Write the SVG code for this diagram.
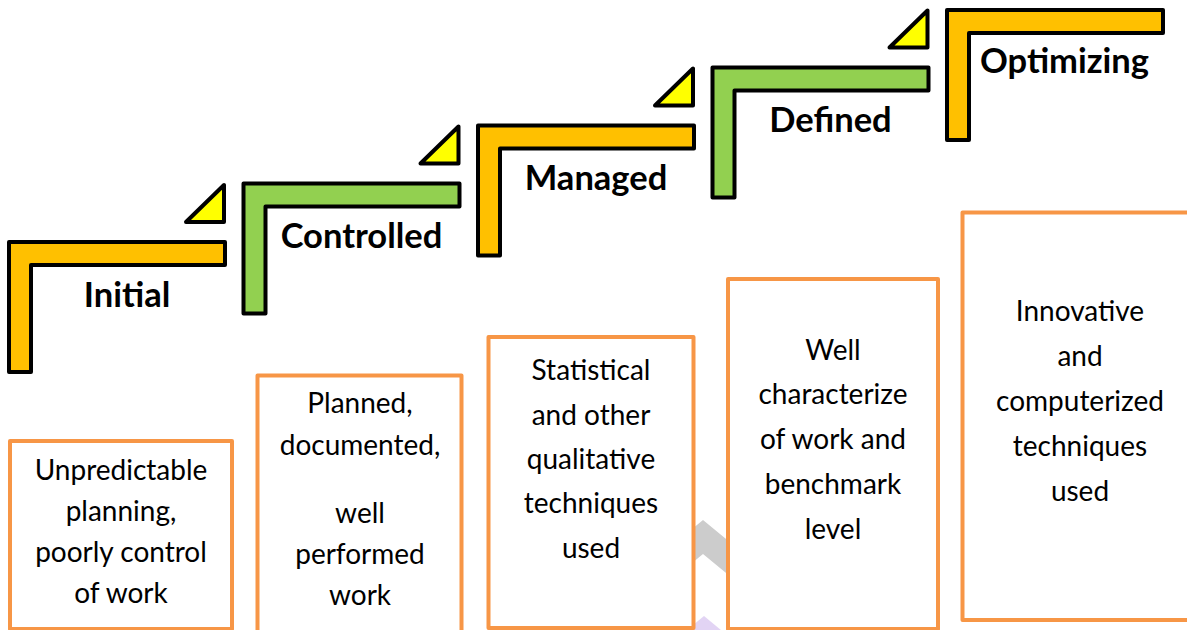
<svg xmlns="http://www.w3.org/2000/svg" width="1187" height="630" viewBox="0 0 1187 630">
<style>
.step{stroke:#000;stroke-width:4;stroke-linejoin:round}
.orange{fill:#FFC000}
.green{fill:#92D050}
.tri{fill:#FFFF00;stroke:#000;stroke-width:4;stroke-linejoin:round}
.title{font-family:Lato,"Open Sans",sans-serif;font-weight:bold;font-size:34.5px;fill:#000;text-anchor:middle}
.box{fill:#fff;stroke:#F79646;stroke-width:4;stroke-linejoin:round}
.body{font-family:Lato,"Open Sans",sans-serif;font-size:28px;fill:#000;text-anchor:middle}
</style>
<defs>
<path id="L" d="M0,0 H216 V23 H22 V130 H0 Z"/>
<path id="T" d="M177,-20 L215,-57 L215,-20 Z"/>
</defs>
<rect width="1187" height="630" fill="#fff"/>
<g id="watermark">
<polygon points="703,520 765,571 765,605 703,554 641,605 641,571" fill="#CCCCCC"/>
<polygon points="704,616 745,650 663,650" fill="#E2D4F4"/>
</g>
<g id="connectors"/>
<g id="step-initial" transform="translate(9,242)">
<use href="#L" class="step orange"/>
<use href="#T" class="tri"/>
<text class="title" x="118" y="65">Initial</text>
</g>
<g id="step-controlled" transform="translate(243.5,183.5)">
<use href="#L" class="step green"/>
<use href="#T" class="tri"/>
<text class="title" x="118" y="64.5">Controlled</text>
</g>
<g id="step-managed" transform="translate(478,125.5)">
<use href="#L" class="step orange"/>
<use href="#T" class="tri"/>
<text class="title" x="118" y="64">Managed</text>
</g>
<g id="step-defined" transform="translate(712.5,67.5)">
<use href="#L" class="step green"/>
<use href="#T" class="tri"/>
<text class="title" x="118" y="64">Defined</text>
</g>
<g id="step-optimizing" transform="translate(947,10)">
<use href="#L" class="step orange"/>
<text class="title" x="117.5" y="63">Optimizing</text>
</g>
<g id="box-initial">
<rect class="box" x="10" y="441" width="222" height="188"/>
<text class="body" x="121" y="480">Unpredictable</text>
<text class="body" x="121" y="521">planning,</text>
<text class="body" x="121" y="562">poorly control</text>
<text class="body" x="121" y="603">of work</text>
</g>
<g id="box-controlled">
<rect class="box" x="257.5" y="375.5" width="204" height="262"/>
<text class="body" x="360" y="413">Planned,</text>
<text class="body" x="360" y="455">documented,</text>
<text class="body" x="360" y="523">well</text>
<text class="body" x="360" y="564">performed</text>
<text class="body" x="360" y="605">work</text>
</g>
<g id="box-managed">
<rect class="box" x="488.5" y="337" width="205" height="291"/>
<text class="body" x="591" y="380">Statistical</text>
<text class="body" x="591" y="424.5">and other</text>
<text class="body" x="591" y="469">qualitative</text>
<text class="body" x="591" y="513">techniques</text>
<text class="body" x="591" y="558">used</text>
</g>
<g id="box-defined">
<rect class="box" x="728" y="279" width="210" height="350"/>
<text class="body" x="833" y="359.5">Well</text>
<text class="body" x="833" y="404">characterize</text>
<text class="body" x="833" y="448.5">of work and</text>
<text class="body" x="833" y="493.5">benchmark</text>
<text class="body" x="833" y="538.5">level</text>
</g>
<g id="box-optimizing">
<rect class="box" x="962.5" y="212.5" width="240" height="407.5"/>
<text class="body" x="1080" y="321">Innovative</text>
<text class="body" x="1080" y="366">and</text>
<text class="body" x="1080" y="411">computerized</text>
<text class="body" x="1080" y="456">techniques</text>
<text class="body" x="1080" y="500.5">used</text>
</g>
</svg>
